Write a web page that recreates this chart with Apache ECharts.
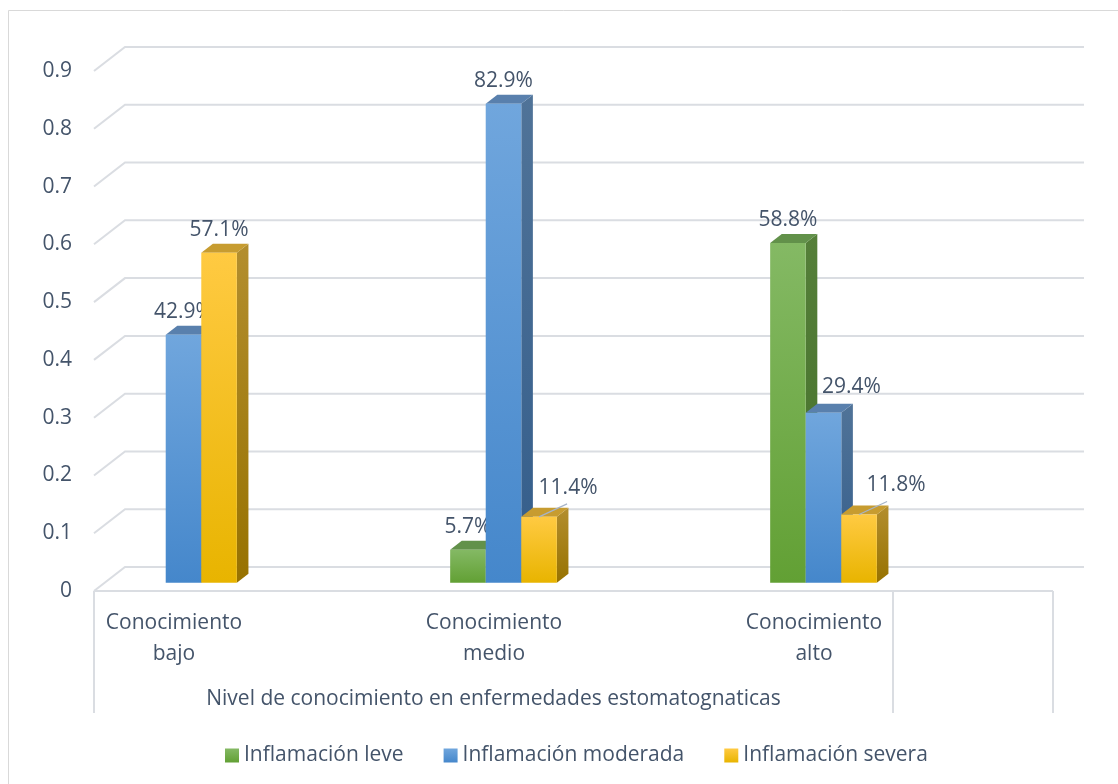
<!DOCTYPE html>
<html>
<head>
<meta charset="utf-8">
<script src="https://cdn.jsdelivr.net/npm/echarts@6/dist/echarts.min.js"></script>
<style>
html,body{margin:0;padding:0;background:#fff;}
#chart{width:1118px;height:784px;}
</style>
</head>
<body>
<div id="chart"></div>
<script>
// ---- data ----
const categories = ['Conocimiento bajo', 'Conocimiento medio', 'Conocimiento alto'];
const parentCategory = 'Nivel de conocimiento en enfermedades estomatognaticas';
const seriesNames = ['Inflamación leve', 'Inflamación moderada', 'Inflamación severa'];
const leve = [null, 0.057, 0.588];
const moderada = [0.429, 0.829, 0.294];
const severa = [0.571, 0.114, 0.118];
const yTicks = [0, 0.1, 0.2, 0.3, 0.4, 0.5, 0.6, 0.7, 0.8, 0.9];

// ---- style ----
const FONT = '"Open Sans", "Noto Sans", sans-serif';
const TXT = '#44546A';
const GRID_C = '#DADDE2';
const BACK_DX = 31, BACK_DY = -24;     // back wall offset
const BAR_SX = 9.5, BAR_SY = -8.3;     // bar front plane offset
const SIDE_DX = 11.6, SIDE_DY = -9;    // bar depth
const palette = [
  {front:['#84B964','#62A034'], side:['#557F39','#44702A'], top:'#62914A'},
  {front:['#70A6DD','#4587CB'], side:['#507398','#335D8B'], top:'#5980AD'},
  {front:['#FFCA42','#E8B400'], side:['#B38E2E','#977200'], top:'#C79C30'}
];
// label adjustments (series-category) : [dx, dy, leaderLine]
const labelNudge = {'1-2':[28,-3,false], '2-1':[29,-6,true], '2-2':[37,-7,true]};

function vgrad(a, b) {
  return new echarts.graphic.LinearGradient(0, 0, 0, 1, [{offset:0, color:a},{offset:1, color:b}]);
}

function barRenderer(si) {
  return function (params, api) {
    const val = api.value(1);
    if (val == null || isNaN(val)) return;
    const cat = api.value(0);
    const c = api.coord([cat, val]);
    const b = api.coord([cat, 0]);
    const bw = api.size([1, 0])[0] / 9;
    const x0 = c[0] + (si - 1.5) * bw + BAR_SX;
    const yT = c[1] + BAR_SY, yB = b[1] + BAR_SY;
    const p = palette[si];
    const children = [
      {type:'polygon', shape:{points:[[x0+bw,yT],[x0+bw+SIDE_DX,yT+SIDE_DY],[x0+bw+SIDE_DX,yB+SIDE_DY],[x0+bw,yB]]},
       style:{fill:vgrad(p.side[0], p.side[1])}},
      {type:'polygon', shape:{points:[[x0,yT],[x0+SIDE_DX,yT+SIDE_DY],[x0+bw+SIDE_DX,yT+SIDE_DY],[x0+bw,yT]]},
       style:{fill:p.top}},
      {type:'rect', shape:{x:x0, y:yT, width:bw, height:yB-yT},
       style:{fill:vgrad(p.front[0], p.front[1])}}
    ];
    const cx = x0 + bw / 2;
    let lx = cx, ly = yT - 23;
    const n = labelNudge[si + '-' + cat];
    if (n) {
      lx += n[0]; ly += n[1];
      if (n[2]) {
        children.push({type:'line', shape:{x1:cx, y1:yT, x2:cx+28, y2:yT-13},
          style:{stroke:'#A6B4C8', lineWidth:1.2}, z2:10});
      }
    }
    children.push({type:'text', z2:20, style:{text:(val*100).toFixed(1)+'%', x:lx, y:ly,
      align:'center', verticalAlign:'middle', fill:TXT, font:'21px ' + FONT}});
    return {type:'group', children};
  };
}

const chart = echarts.init(document.getElementById('chart'));
const gridTop = 71, gridBottom = 784 - 591;

const option = {
  animation:false,
  backgroundColor:'#fff',
  textStyle:{fontFamily:FONT},
  grid:[
    {left:94, right:1118-1053, top:gridTop, bottom:gridBottom},
    {left:14, width:960, top:gridTop, bottom:gridBottom}
  ],
  xAxis:[
    {gridIndex:0, type:'value', min:0, max:1, show:false},
    {gridIndex:1, type:'category', data:categories,
     axisLine:{show:false}, axisTick:{show:false}, splitLine:{show:false},
     axisLabel:{color:TXT, fontSize:21, fontFamily:FONT, lineHeight:31, margin:17,
       formatter:v => v.replace(' ', '\n')}}
  ],
  yAxis:[
    {gridIndex:0, type:'value', min:0, max:0.9, interval:0.1,
     axisLine:{show:false}, axisTick:{show:false}, splitLine:{show:false},
     axisLabel:{color:TXT, fontSize:21, fontFamily:FONT, margin:22, padding:[5,0,0,0]}},
    {gridIndex:1, type:'value', min:0, max:0.9, interval:0.1, show:false}
  ],
  legend:{
    data:seriesNames, left:220, top:740, itemGap:40, itemWidth:14, itemHeight:14,
    icon:'rect', textStyle:{color:TXT, fontSize:21, fontFamily:FONT}
  },
  graphic:[
    {type:'rect', shape:{x:8.5, y:10.5, width:1300, height:1000}, style:{fill:null, stroke:'#D9D9D9', lineWidth:1}, z:0},
    {type:'line', shape:{x1:94, y1:591, x2:94, y2:713}, style:{stroke:GRID_C, lineWidth:2}},
    {type:'line', shape:{x1:893, y1:591, x2:893, y2:713}, style:{stroke:GRID_C, lineWidth:2}},
    {type:'line', shape:{x1:1053, y1:591, x2:1053, y2:713}, style:{stroke:GRID_C, lineWidth:2}},
    {type:'text', style:{text:parentCategory, x:493.5, y:699, align:'center', verticalAlign:'middle',
      fill:TXT, font:'21px ' + FONT}}
  ],
  series:[
    {type:'custom', name:'walls', xAxisIndex:0, yAxisIndex:0, silent:true, z:1,
     data:yTicks.map(v => [0, v]),
     renderItem:function (params, api) {
       const v = api.value(1);
       const p = api.coord([0, v]);
       const e = api.coord([1, v]);
       const children = [{type:'polyline', shape:{points:[[p[0], p[1]], [p[0]+BACK_DX, p[1]+BACK_DY], [e[0]+BACK_DX, e[1]+BACK_DY]]},
         style:{stroke:GRID_C, lineWidth:2, fill:null}}];
       if (v === 0) {
         children.push({type:'line', shape:{x1:p[0], y1:p[1], x2:e[0], y2:e[1]}, style:{stroke:GRID_C, lineWidth:2}, z2:30});
       }
       return {type:'group', children};
     }},
    {type:'custom', name:seriesNames[0], xAxisIndex:1, yAxisIndex:1, z:2,
     itemStyle:{color:vgrad(palette[0].front[0], palette[0].front[1])},
     data:leve.map((v, i) => [i, v]), renderItem:barRenderer(0)},
    {type:'custom', name:seriesNames[1], xAxisIndex:1, yAxisIndex:1, z:3,
     itemStyle:{color:vgrad(palette[1].front[0], palette[1].front[1])},
     data:moderada.map((v, i) => [i, v]), renderItem:barRenderer(1)},
    {type:'custom', name:seriesNames[2], xAxisIndex:1, yAxisIndex:1, z:4,
     itemStyle:{color:vgrad(palette[2].front[0], palette[2].front[1])},
     data:severa.map((v, i) => [i, v]), renderItem:barRenderer(2)}
  ]
};
chart.setOption(option);
</script>
</body>
</html>
